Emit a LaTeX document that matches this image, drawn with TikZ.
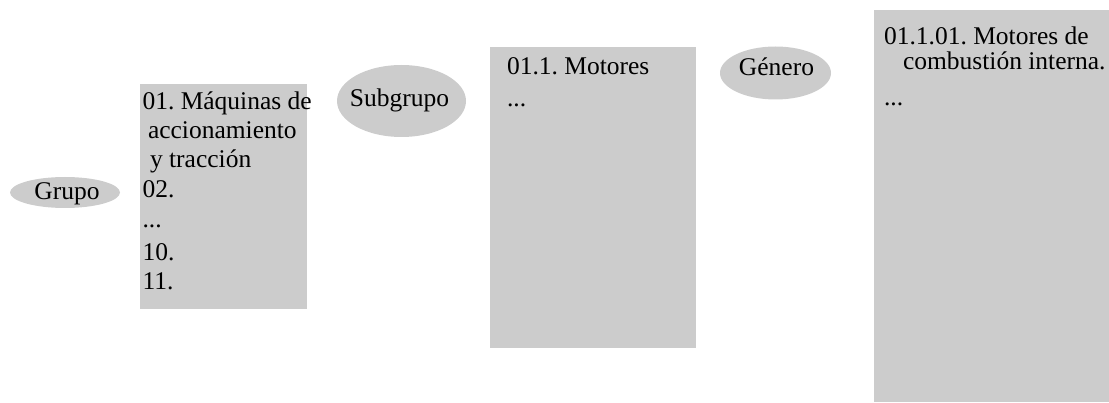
\documentclass[tikz,border=0pt]{standalone}
\usepackage{fontspec}
\setmainfont{Liberation Serif}
\usetikzlibrary{shapes.geometric}
\definecolor{boxgray}{HTML}{CCCCCC}
\frenchspacing
\begin{document}
\begin{tikzpicture}[x=1pt,y=-1pt,
  box/.style={fill=boxgray, draw=none, rectangle, inner sep=0pt, outer sep=0pt, anchor=north west},
  oval/.style={fill=boxgray, draw=none, ellipse, inner sep=0pt, outer sep=0pt},
  txt/.style={font=\fontsize{25.5}{30}\selectfont\frenchspacing, inner sep=0pt, outer sep=0pt, anchor=base west},
  ctxt/.style={txt, anchor=base}
]
\useasboundingbox (0,0) rectangle (1109,403);
% boxes
\node[box, minimum width=167pt, minimum height=225pt] (box1) at (140,84) {};
\node[box, minimum width=206pt, minimum height=301pt] (box2) at (490,47) {};
\node[box, minimum width=235.5pt, minimum height=392pt] (box3) at (873.5,10) {};
% ellipses
\node[oval, minimum width=110pt, minimum height=31pt] (grupo) at (65,192.5) {};
\node[oval, minimum width=129pt, minimum height=72pt] (subgrupo) at (401.5,101) {};
\node[oval, minimum width=111pt, minimum height=53pt] (genero) at (775.5,73) {};
% ellipse labels
\node[ctxt] (grupoT) at (67,199.5) {Grupo};
\node[ctxt] (subgrupoT) at (399.5,107) {Subgrupo};
\node[ctxt] (generoT) at (776.5,76) {Género};
% box 1 text
\node[txt] (b1a) at (142.5,110) {01. Máquinas de};
\node[txt] (b1b) at (148,139) {accionamiento};
\node[txt] (b1c) at (150,168) {y tracción};
\node[txt] (b1d) at (142.5,198) {02.};
\node[txt] (b1e) at (142.5,228) {...};
\node[txt] (b1f) at (142.5,261) {10.};
\node[txt] (b1g) at (142.5,290) {11.};
% box 2 text
\node[txt] (b2a) at (507,75) {01.1. Motores};
\node[txt] (b2b) at (507,107) {...};
% box 3 text
\node[txt] (b3a) at (884,45) {01.1.01. Motores de};
\node[txt] (b3b) at (903,70) {combustión interna.};
\node[txt] (b3c) at (884,106) {...};
\end{tikzpicture}
\end{document}
